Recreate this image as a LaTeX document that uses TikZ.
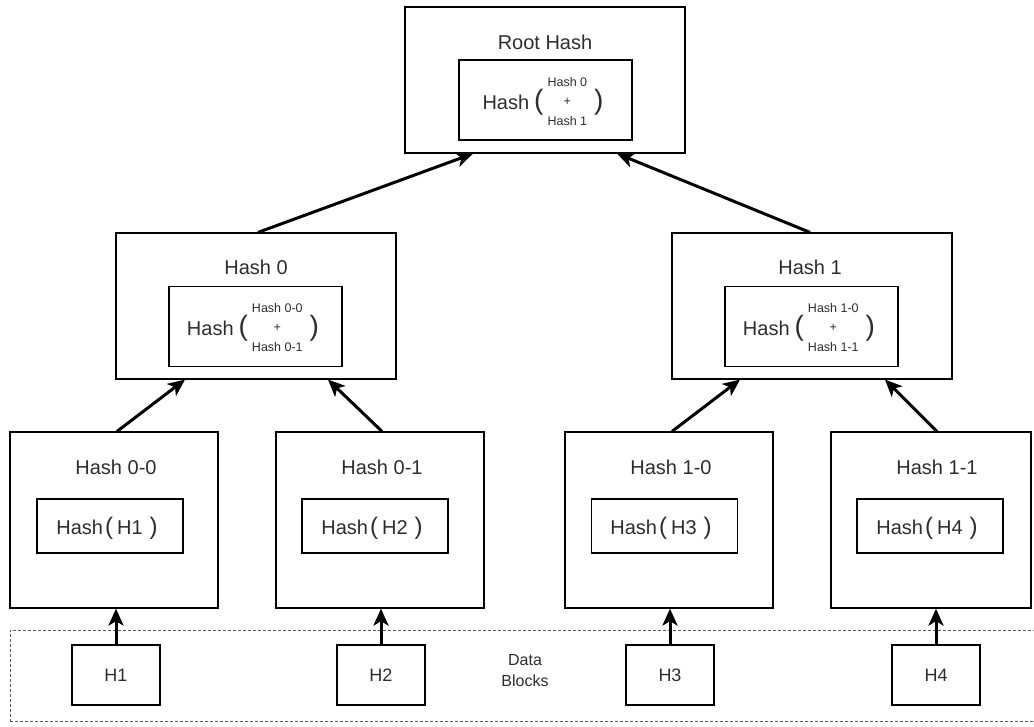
\documentclass[tikz,border=0pt]{standalone}
\usepackage{fontspec}
\setmainfont{Liberation Sans}
\usetikzlibrary{arrows.meta,calc}
\definecolor{txt}{RGB}{45,45,45}
\definecolor{dashc}{RGB}{90,90,90}
\newcommand{\fsz}[1]{\fontsize{#1}{#1}\selectfont}
\newcommand{\pairhash}[2]{{\fsz{20}Hash}\hspace{5pt}{\fsz{28}(}\hspace{4pt}\raisebox{4pt}{\fontsize{12.5}{19.5}\selectfont\begin{tabular}{@{}c@{}}#1\\+\\#2\end{tabular}}\hspace{7pt}{\fsz{28})}}
\newcommand{\onehash}[1]{{\fsz{20}Hash}\hspace{2pt}{\fsz{24}(}\hspace{4pt}{\fsz{20}#1}\hspace{7pt}{\fsz{24})}}
\begin{document}
\begin{tikzpicture}[x=1pt,y=-1pt,
  bigbox/.style={draw=black,line width=1.2pt,minimum width=280pt,minimum height=146pt,inner sep=0pt},
  pairbox/.style={draw=black,line width=1.2pt,minimum width=173pt,minimum height=80pt,inner sep=0pt},
  leafbox/.style={draw=black,line width=1.2pt,minimum width=#1,minimum height=176pt,inner sep=0pt},
  leafbox/.default=208pt,
  onebox/.style={draw=black,line width=1.2pt,minimum width=146pt,minimum height=54pt,inner sep=0pt},
  databox/.style={draw=black,line width=1.2pt,minimum width=88pt,minimum height=60pt,inner sep=0pt,font=\fsz{18},text=txt},
  title/.style={font=\fsz{20},inner sep=0pt,text=txt},
  content/.style={inner sep=0pt,text=txt},
  dblock/.style={draw=dashc,line width=0.8pt,dash pattern=on 3pt off 2pt,minimum width=1035pt,minimum height=91pt,inner sep=0pt},
  arr/.style={line width=3pt,-{Stealth[length=17pt,width=15pt,inset=4.5pt]}}]
\useasboundingbox (0,0) rectangle (1034,726);
% data blocks area
\node[dblock] (dblk) at (527.5,675.5) {};
\node[align=center,font=\fontsize{16}{21}\selectfont,text=txt,inner sep=0pt] (dlabel) at (525,671) {Data\\Blocks};
% root
\node[bigbox] (root) at (545,80) {};
\node[title] (roott) at (545,42) {Root Hash};
\node[pairbox] (rootin) at (545.5,100) {};
\node[content] (rootc) at (543,102) {\pairhash{Hash 0}{Hash 1}};
% hash 0
\node[bigbox] (h0) at (256,306) {};
\node[title] (h0t) at (256,267) {Hash 0};
\node[pairbox] (h0in) at (255.5,326.5) {};
\node[content] (h0c) at (253,328) {\pairhash{Hash 0-0}{Hash 0-1}};
% hash 1
\node[bigbox] (h1) at (812,306) {};
\node[title] (h1t) at (810,267) {Hash 1};
\node[pairbox] (h1in) at (811.5,326.5) {};
\node[content] (h1c) at (809,328) {\pairhash{Hash 1-0}{Hash 1-1}};
% leaves
\node[leafbox] (l00) at (114,520) {};
\node[title] (l00t) at (116,467) {Hash 0-0};
\node[onebox] (l00in) at (110,526) {};
\node[content] (l00c) at (107,528) {\onehash{H1}};
\node[leafbox] (l01) at (380,520) {};
\node[title] (l01t) at (382,467) {Hash 0-1};
\node[onebox] (l01in) at (375,526) {};
\node[content] (l01c) at (372,528) {\onehash{H2}};
\node[leafbox] (l10) at (669,520) {};
\node[title] (l10t) at (671,467) {Hash 1-0};
\node[onebox] (l10in) at (664.5,526) {};
\node[content] (l10c) at (661,528) {\onehash{H3}};
\node[leafbox=200pt] (l11) at (931,520) {};
\node[title] (l11t) at (937,467) {Hash 1-1};
\node[onebox] (l11in) at (930,526) {};
\node[content] (l11c) at (927,528) {\onehash{H4}};
% data
\node[databox] (d1) at (116,675) {H1};
\node[databox] (d2) at (381,675) {H2};
\node[databox] (d3) at (670,675) {H3};
\node[databox] (d4) at (936,675) {H4};
% arrows
\draw[arr] (d1.north) -- (d1.north |- l00.south);
\draw[arr] (d2.north) -- (d2.north |- l01.south);
\draw[arr] (d3.north) -- (d3.north |- l10.south);
\draw[arr] (d4.north) -- (d4.north |- l11.south);
\draw[arr] ([xshift=3pt]l00.north) -- ([xshift=-71pt]h0.south);
\draw[arr] ([xshift=2pt]l01.north) -- ([xshift=72pt]h0.south);
\draw[arr] ([xshift=3pt]l10.north) -- ([xshift=-72pt]h1.south);
\draw[arr] ([xshift=6pt]l11.north) -- ([xshift=73pt]h1.south);
\draw[arr] ([xshift=2pt]h0.north) -- ([xshift=-72pt]root.south);
\draw[arr] ([xshift=-2pt]h1.north) -- ([xshift=72pt]root.south);
\end{tikzpicture}
\end{document}
